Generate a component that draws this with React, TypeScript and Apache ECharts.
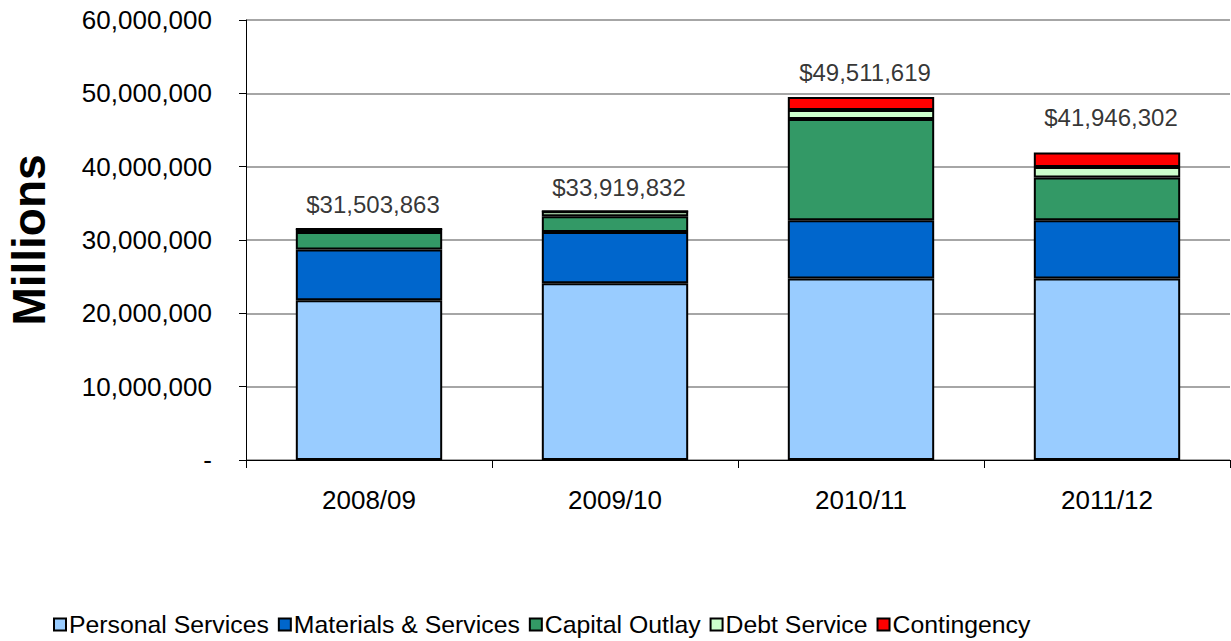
import React, { useEffect, useRef } from "react";
import * as echarts from "echarts";

const categories = ["2008/09", "2009/10", "2010/11", "2011/12"];
const personalServices = [21800000, 24100000, 24740000, 24740000];
const materialsServices = [6900000, 7000000, 7950000, 7950000];
const capitalOutlay = [2400000, 2150000, 13800000, 5820000];
const debtService = [400000, 670000, 1230000, 1450000];
const contingency = [0, 0, 1790000, 1960000];
const totals = [31503863, 33919832, 49511619, 41946302];
const totalLabelOffsets = [0, 0, 0, -11];

const FONT = "'Liberation Sans', Arial, sans-serif";

const fmt = (v: number) => v.toString().replace(/\B(?=(\d{3})+(?!\d))/g, ",");

export default function App() {
  const ref = useRef<HTMLDivElement>(null);
  useEffect(() => {
    if (!ref.current) return;
    const chart = echarts.init(ref.current, undefined, { renderer: "svg" });
    const mk = (name: string, data: number[], color: string) => ({
      name,
      type: "bar",
      stack: "total",
      data,
      barWidth: "59.5%",
      itemStyle: { color, borderColor: "#000", borderWidth: 2 },
      emphasis: { disabled: true },
    });
    chart.setOption({
      animation: false,
      textStyle: { fontFamily: FONT },
      grid: { left: 246, right: 1, top: 20, bottom: 181, containLabel: false },
      legend: {
        left: 48,
        top: 607,
        icon: "rect",
        itemWidth: 12,
        itemHeight: 12,
        itemGap: 9,
        textStyle: { fontSize: 24.8, color: "#000", fontFamily: FONT, padding: [0, 0, 0, -2] },
        data: ["Personal Services", "Materials & Services", "Capital Outlay", "Debt Service", "Contingency"],
      },
      xAxis: {
        type: "category",
        data: categories,
        axisLine: { lineStyle: { color: "#000", width: 1 } },
        axisTick: { show: true, length: 8, lineStyle: { color: "#000" } },
        axisLabel: { fontSize: 26, color: "#000", margin: 27, fontFamily: FONT },
      },
      yAxis: {
        type: "value",
        min: 0,
        max: 60000000,
        interval: 10000000,
        axisLine: { show: true, lineStyle: { color: "#000", width: 1 } },
        axisTick: { show: true, length: 7, lineStyle: { color: "#000" } },
        splitLine: { lineStyle: { color: "#888", width: 1.5 } },
        axisLabel: {
          fontSize: 26,
          color: "#000",
          margin: 34,
          fontFamily: FONT,
          formatter: (v: number) => (v === 0 ? "-" : fmt(v)),
        },
      },
      graphic: [
        {
          type: "text",
          x: 29,
          y: 240,
          rotation: Math.PI / 2,
          style: {
            text: "Millions",
            fontSize: 46,
            fontWeight: "bold",
            fontFamily: FONT,
            fill: "#000",
            textAlign: "center",
            textVerticalAlign: "middle",
          },
        },
      ],
      series: [
        mk("Personal Services", personalServices, "#99CCFF"),
        mk("Materials & Services", materialsServices, "#0066CC"),
        mk("Capital Outlay", capitalOutlay, "#339966"),
        mk("Debt Service", debtService, "#CCFFCC"),
        mk("Contingency", contingency, "#FF0000"),
        {
          name: "Total",
          type: "scatter",
          symbolSize: 0,
          silent: true,
          data: totals.map((t, i) => ({
            value: t,
            label: { offset: [4, totalLabelOffsets[i]] },
          })),
          label: {
            show: true,
            position: "top",
            distance: 12,
            fontSize: 24,
            color: "#000",
            fontFamily: FONT,
            formatter: (p: any) => "$" + fmt(p.value),
          },
          z: 10,
        },
      ],
    });
    return () => chart.dispose();
  }, []);
  return (
    <div
      ref={ref}
      style={{ position: "fixed", left: 0, top: 0, width: 1231, height: 641, background: "#fff" }}
    />
  );
}
